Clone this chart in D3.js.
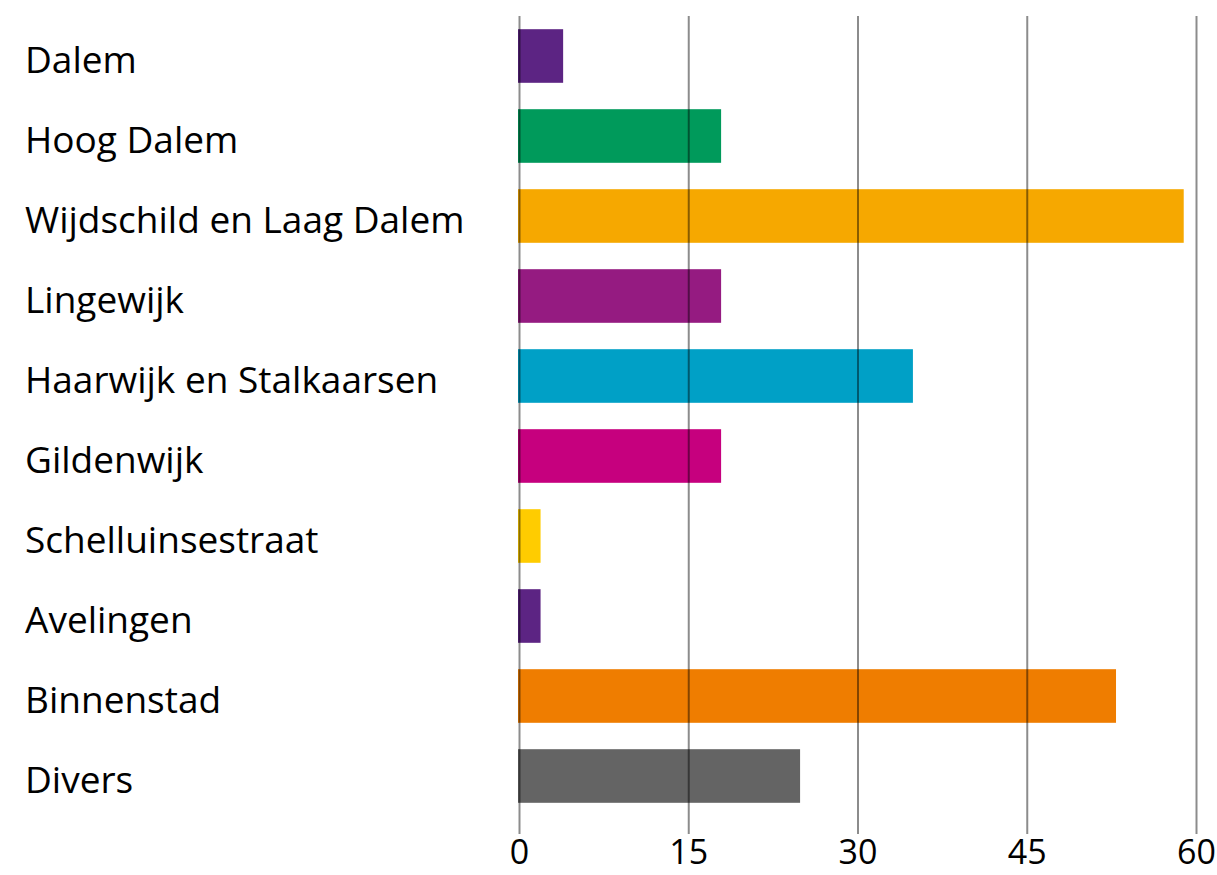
<!DOCTYPE html>
<html>
<head>
<meta charset="utf-8">
<script src="https://cdn.jsdelivr.net/npm/d3@7"></script>
<style>
  body { margin: 0; background: #fff; }
  text { font-family: "Open Sans", sans-serif; fill: #000; }
</style>
</head>
<body>
<div id="chart"></div>
<script>
// data
var wijken = ["Dalem", "Hoog Dalem", "Wijdschild en Laag Dalem", "Lingewijk",
  "Haarwijk en Stalkaarsen", "Gildenwijk", "Schelluinsestraat", "Avelingen",
  "Binnenstad", "Divers"];
var aantallen = [4, 18, 59, 18, 35, 18, 2, 2, 53, 25];
var kleuren = ["#5c2483", "#009a5b", "#f6a800", "#951b81", "#00a0c6",
  "#c6007e", "#ffcc00", "#5c2483", "#ef7d00", "#646464"];
var tickWaarden = [0, 15, 30, 45, 60];

function init() {
  var w = 1217;
  var h = 875;

  var svg = d3.select("#chart")
    .append("svg")
    .attr("width", w)
    .attr("height", h);

  var xScale = d3.scaleLinear()
    .domain([0, 60])
    .range([518, 1195]);

  var yScale = d3.scaleBand()
    .domain(wijken)
    .range([16, 816])
    .paddingInner(0.33)
    .paddingOuter(0.165);

  // bars
  svg.selectAll("rect.bar")
    .data(aantallen)
    .enter()
    .append("rect")
    .attr("class", "bar")
    .attr("x", xScale(0))
    .attr("y", function(d, i) { return yScale(wijken[i]); })
    .attr("width", function(d) { return xScale(d) - xScale(0); })
    .attr("height", yScale.bandwidth())
    .attr("fill", function(d, i) { return kleuren[i]; });

  // gridlines over the bars
  svg.selectAll("line.grid")
    .data(tickWaarden)
    .enter()
    .append("line")
    .attr("class", "grid")
    .attr("x1", function(d) { return xScale(d) + 1.5; })
    .attr("x2", function(d) { return xScale(d) + 1.5; })
    .attr("y1", 16)
    .attr("y2", 834)
    .attr("stroke", "#000")
    .attr("stroke-opacity", 0.45)
    .attr("stroke-width", 2);

  // tick labels
  svg.selectAll("text.tick")
    .data(tickWaarden)
    .enter()
    .append("text")
    .attr("class", "tick")
    .attr("x", function(d) { return xScale(d) + 1.5; })
    .attr("y", 864)
    .attr("text-anchor", "middle")
    .style("font-size", "34px")
    .text(function(d) { return d; });

  // category labels
  svg.selectAll("text.cat")
    .data(wijken)
    .enter()
    .append("text")
    .attr("class", "cat")
    .attr("x", 25)
    .attr("y", function(d) { return yScale(d) + yScale.bandwidth() / 2 + 17; })
    .style("font-size", "37px")
    .text(function(d) { return d; });
}

window.onload = init;
</script>
</body>
</html>
